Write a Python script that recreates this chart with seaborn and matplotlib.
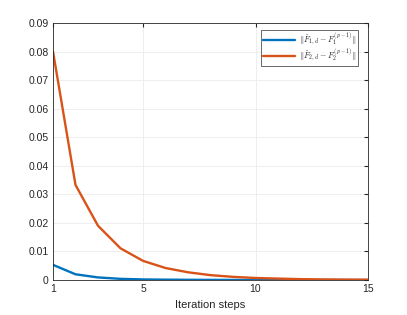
import numpy as np
import pandas as pd
import matplotlib
matplotlib.use("Agg")
import matplotlib.pyplot as plt
import seaborn as sns

# data
steps = list(range(1, 16))
err1 = [0.0053, 0.0020, 0.0009, 0.0004, 0.0002, 0.00012, 0.00007, 0.00004,
        0.00002, 0.00001, 0.00001, 0.0, 0.0, 0.0, 0.0]
err2 = [0.0800, 0.0333, 0.0190, 0.0111, 0.0067, 0.0042, 0.0027, 0.0017,
        0.0011, 0.0007, 0.0005, 0.0003, 0.0002, 0.00015, 0.0001]
labels = [r'$\|\hat{F}_{1,d}-F_1^{(p-1)}\|$', r'$\|\hat{F}_{2,d}-F_2^{(p-1)}\|$']
colors = ['#0072BD', '#D95319']

sns.set_style('white')
plt.rcParams['font.family'] = ['Liberation Sans', 'DejaVu Sans']
plt.rcParams['mathtext.fontset'] = 'cm'

df = pd.DataFrame({
    'step': steps * 2,
    'err': err1 + err2,
    'series': [labels[0]] * len(steps) + [labels[1]] * len(steps),
})

fig = plt.figure(figsize=(4.07, 3.15), dpi=100)
ax = fig.add_axes([53 / 407, 35 / 315, 315 / 407, 257 / 315])
sns.lineplot(data=df, x='step', y='err', hue='series', palette=colors,
             linewidth=1.7, ax=ax)

ax.set_xlim(1, 15)
ax.set_ylim(0, 0.09)
ax.set_xticks([1, 5, 10, 15])
ax.set_yticks(np.arange(0, 0.0901, 0.01))
ax.set_yticklabels(['0'] + ['%.2f' % v for v in np.arange(0.01, 0.0901, 0.01)])
ax.grid(True, color='#ebebeb', linewidth=0.6)
ax.set_axisbelow(True)
ax.tick_params(direction='in', length=3, labelsize=7.5, colors='#262626',
               top=True, right=True, pad=3)
for s in ax.spines.values():
    s.set_color('#262626')
    s.set_linewidth(0.6)
ax.set_xlabel('Iteration steps', fontsize=8, color='#262626')
ax.set_ylabel('')

leg = ax.legend(loc='upper right', fontsize=6, frameon=True, fancybox=False,
                edgecolor='#262626', handlelength=3.8, borderpad=0.2,
                labelspacing=0.0, handletextpad=0.5, borderaxespad=0,
                bbox_to_anchor=(0.968, 0.973))
leg.get_frame().set_linewidth(0.6)

fig.savefig('out.png', dpi=100)
